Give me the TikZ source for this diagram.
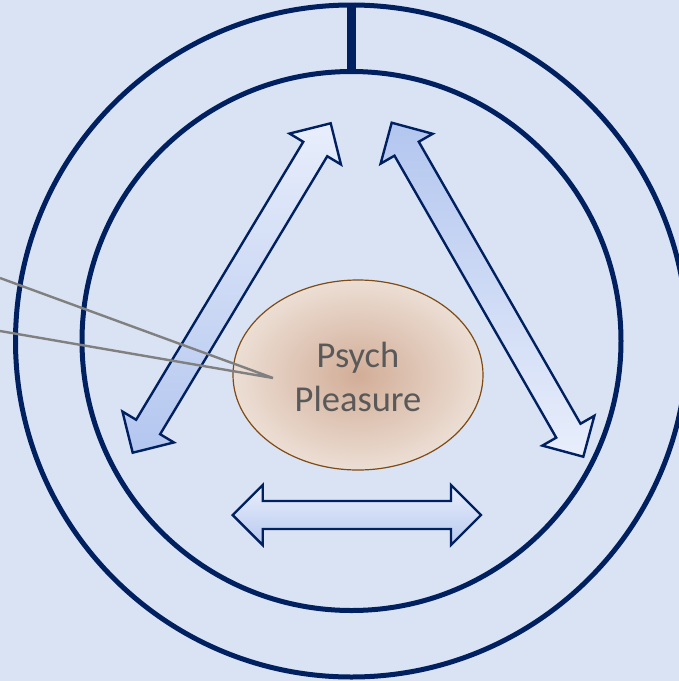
\documentclass[tikz,border=0pt]{standalone}
\usepackage{fontspec}
\setmainfont{Carlito}
\usetikzlibrary{calc,shapes.geometric}
\definecolor{bg}{HTML}{DAE3F3}
\definecolor{navy}{HTML}{002060}
\definecolor{arrlight}{HTML}{E8EEFB}
\definecolor{arrdark}{HTML}{B3C6EF}
\definecolor{ellin}{HTML}{D2AD97}
\definecolor{ellout}{HTML}{ECDED4}
\definecolor{ellborder}{HTML}{7F4A14}
\definecolor{txtgray}{HTML}{595959}
\definecolor{callgray}{HTML}{808080}
\tikzset{
  ring/.style={circle, draw=navy, line width=5pt, inner sep=0pt},
  dblarr/.style={draw=navy, line width=2.4pt, line join=miter},
  callout/.style={draw=callgray, line width=2.4pt, line join=miter},
}
\newcommand\dblarrow[5]{%
  \coordinate (#1a) at #2; \coordinate (#1b) at #3;
  \path ($(#1a)!30pt!(#1b)$) coordinate (#1p) ($(#1b)!30pt!(#1a)$) coordinate (#1q);
  \draw[dblarr, top color=#4, bottom color=#5]
    (#1a) -- ($(#1p)!30pt!90:(#1b)$) -- ($(#1p)!14pt!90:(#1b)$)
    -- ($(#1q)!14pt!-90:(#1a)$) -- ($(#1q)!30pt!-90:(#1a)$) -- (#1b)
    -- ($(#1q)!30pt!90:(#1a)$) -- ($(#1q)!14pt!90:(#1a)$)
    -- ($(#1p)!14pt!-90:(#1b)$) -- ($(#1p)!30pt!-90:(#1b)$) -- cycle;}
\begin{document}
\begin{tikzpicture}[x=1pt,y=-1pt]
\useasboundingbox (0,0) rectangle (679,681);
\clip (0,0) rectangle (679,681);
\fill[bg] (0,0) rectangle (679,681);
% rings
\node[ring, minimum size=672pt] (outer) at (351.5,341) {};
\node[ring, minimum size=539pt] (inner) at (351.5,341) {};
\draw[navy, line width=9pt] (outer.north) -- (inner.north);
% arrows
\dblarrow{L}{(330.7,123.3)}{(132.7,452.7)}{arrlight}{arrdark}
\dblarrow{R}{(391.7,122.7)}{(583.3,456.7)}{arrdark}{arrlight}
\dblarrow{H}{(232.7,515)}{(481,515)}{arrlight!90!white}{arrdark!95!white}
% ellipse
\node[ellipse, draw=ellborder, line width=1.2pt, minimum width=250pt, minimum height=190pt,
      inner color=ellin, outer color=ellout] (pp) at (358,375) {};
\node[align=center, text=txtgray, font=\fontsize{36.5}{44}\selectfont] (txt) at (358,377) {Psych\\Pleasure};
% callout lines
\coordinate (c1) at (0,278);
\coordinate (c2) at (0,331);
\coordinate (ct) at (273,378);
\draw[callout] (c1) -- (ct) -- (c2);
\end{tikzpicture}
\end{document}
